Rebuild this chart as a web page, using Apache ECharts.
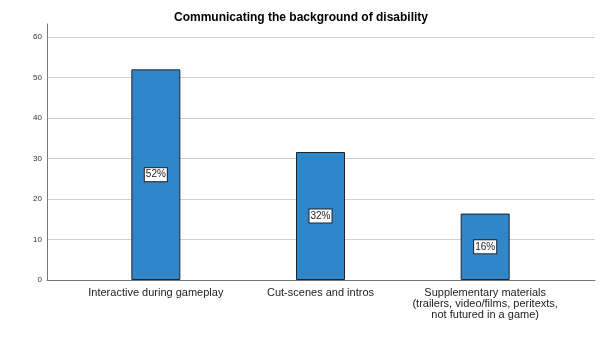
<!DOCTYPE html>
<html>
<head>
<meta charset="utf-8">
<script src="https://cdn.jsdelivr.net/npm/echarts@6/dist/echarts.min.js"></script>
<style>
  html, body { margin: 0; padding: 0; background: #fff; }
  #chart { width: 602px; height: 353px; }
</style>
</head>
<body>
<div id="chart"></div>
<script>
var categories = [
    'Interactive during gameplay',
    'Cut-scenes and intros',
    'Supplementary materials\n(trailers, video/films, peritexts,\nnot futured in a game)'
];
var values = [52.0, 31.6, 16.4];
var percentLabels = ['52%', '32%', '16%'];
var yTicks = [0, 10, 20, 30, 40, 50, 60];

var yMax = 63.2;

var option = {
    animation: false,
    backgroundColor: '#ffffff',
    title: {
        text: 'Communicating the background of disability',
        left: 'center',
        top: 7,
        textStyle: {
            fontFamily: 'Liberation Sans, Arial',
            fontSize: 12,
            fontWeight: 'bold',
            color: '#000'
        }
    },
    grid: [
        // frame grid: axis line + gridlines
        { left: 47, right: 7, top: 24, bottom: 73 },
        // bar grid: categories sit inside the frame
        { left: 73.5, right: 34.5, top: 24, bottom: 73 }
    ],
    xAxis: [
        {
            gridIndex: 0,
            type: 'value',
            min: 0,
            max: 1,
            axisLine: { show: true, onZero: false, lineStyle: { color: '#777', width: 1 } },
            axisTick: { show: false },
            axisLabel: { show: false },
            splitLine: { show: false }
        },
        {
            gridIndex: 1,
            type: 'category',
            data: categories,
            axisLine: { show: false },
            axisTick: { show: false },
            axisLabel: {
                interval: 0,
                margin: 7,
                fontFamily: 'Liberation Sans, Arial',
                fontSize: 11,
                lineHeight: 11,
                color: '#222',
                align: 'center'
            }
        }
    ],
    yAxis: [
        {
            gridIndex: 0,
            type: 'value',
            min: 0,
            max: yMax,
            interval: 10,
            axisLine: { show: true, lineStyle: { color: '#777', width: 1 } },
            axisTick: { show: false },
            axisLabel: {
                margin: 5,
                fontFamily: 'Liberation Sans, Arial',
                fontSize: 8,
                color: '#333',
                formatter: function (v) {
                    return yTicks.indexOf(v) >= 0 ? String(v) : '';
                }
            },
            splitLine: {
                show: true,
                showMaxLine: false,
                lineStyle: { color: '#cfcfcf', width: 1 }
            }
        },
        {
            gridIndex: 1,
            type: 'value',
            min: 0,
            max: yMax,
            show: false,
            splitLine: { show: false }
        }
    ],
    series: [
        {
            type: 'bar',
            xAxisIndex: 1,
            yAxisIndex: 1,
            data: values,
            barWidth: 49,
            itemStyle: {
                color: '#2f86c8',
                borderColor: '#1b2430',
                borderWidth: 1
            },
            label: {
                show: true,
                position: 'inside',
                formatter: function (p) {
                    return percentLabels[p.dataIndex];
                },
                fontFamily: 'Liberation Sans, Arial',
                fontSize: 10,
                color: '#222',
                backgroundColor: '#fff',
                borderColor: '#1b2430',
                borderWidth: 1,
                padding: [2, 1, 1, 1]
            }
        }
    ]
};

var chart = echarts.init(document.getElementById('chart'));
chart.setOption(option);
</script>
</body>
</html>
